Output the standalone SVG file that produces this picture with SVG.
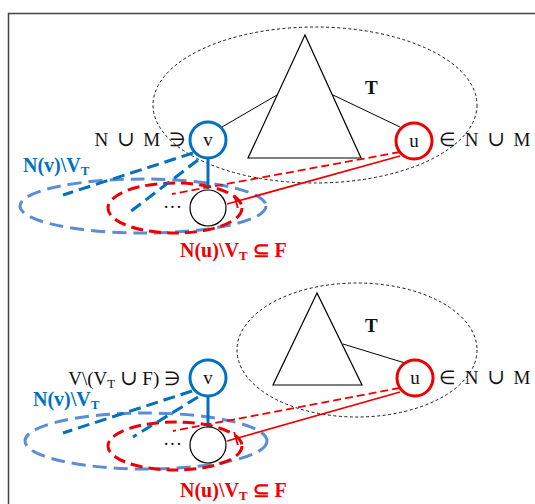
<svg xmlns="http://www.w3.org/2000/svg" width="535" height="504" viewBox="0 0 535 504">
<style>
.txt{font-family:"Liberation Serif","Times New Roman",serif;font-size:19px;fill:#111}
.lbl{font-family:"Liberation Serif","Times New Roman",serif;font-size:20px;font-weight:bold}
.cup{font-family:"DejaVu Serif",serif;font-size:21px}
.blue{fill:#0070C0}
.red{fill:#EE0000}
.tree{fill:none;stroke:#000;stroke-width:1.2}
.region{fill:none;stroke:#000;stroke-width:0.9;stroke-dasharray:3 2.5}
.vnode{fill:#fff;stroke:#0070C0;stroke-width:3}
.unode{fill:#fff;stroke:#EE0000;stroke-width:3}
.wnode{fill:#fff;stroke:#000;stroke-width:1.2}
.bell{fill:none;stroke:#5B8DD6;stroke-width:3;stroke-dasharray:14 7}
.rell{fill:none;stroke:#EE0000;stroke-width:3;stroke-dasharray:12 6}
.bdash{stroke:#0070C0;stroke-width:3;stroke-dasharray:12 6;fill:none}
.rdash{stroke:#EE0000;stroke-width:1.8;stroke-dasharray:8 4;fill:none}
.rsolid{stroke:#EE0000;stroke-width:1.8;fill:none}
.bsolid{stroke:#0070C0;stroke-width:3;fill:none}
.edge{stroke:#000;stroke-width:1;fill:none}
</style>
<defs>
<marker id="bar" markerWidth="4" markerHeight="14" refX="2" refY="7" orient="auto" markerUnits="userSpaceOnUse">
<line x1="2" y1="0" x2="2" y2="14" stroke="#EE0000" stroke-width="1.8"/>
</marker>
</defs>
<g id="frame">
<path d="M8.5 504 V13.5 H535" fill="none" stroke="#444" stroke-width="1.5"/>
</g>

<!-- TOP PANEL -->
<g id="top-T">
<ellipse class="region" cx="315" cy="105" rx="162" ry="78"/>
<polygon class="tree" points="305,35 248,158 361,158"/>
<text class="txt" x="365" y="94" font-weight="bold">T</text>
</g>
<g id="top-ellipses">
<ellipse class="bell" cx="143" cy="206" rx="123" ry="27"/>
<ellipse class="rell" cx="175" cy="208" rx="67" ry="25"/>
</g>
<g id="top-connectors">
<line class="edge" x1="222" y1="127" x2="277" y2="95"/>
<line class="edge" x1="333" y1="95" x2="400" y2="127"/>
<line class="bdash" x1="193" y1="153" x2="63" y2="195"/>
<line class="bdash" x1="198" y1="160" x2="130" y2="212"/>
<line class="bsolid" x1="208" y1="159" x2="208" y2="189"/>
<line class="rdash" x1="400" y1="152" x2="172" y2="194"/>
<polyline class="rsolid" points="400,156 236,201.5 227,204" marker-mid="url(#bar)"/>
</g>
<g id="top-v">
<circle class="vnode" cx="208" cy="140" r="18"/>
<text class="txt" x="208" y="146" text-anchor="middle">v</text>
<text class="txt" x="188" y="146" text-anchor="end" letter-spacing="2">N <tspan class="cup">∪</tspan> M ∋</text>
</g>
<g id="top-u">
<circle class="unode" cx="414" cy="141" r="18"/>
<text class="txt" x="414" y="147" text-anchor="middle">u</text>
<text class="txt" x="439" y="146" letter-spacing="2">∈  N <tspan class="cup">∪</tspan> M</text>
</g>
<g id="top-w">
<circle class="wnode" cx="208" cy="208" r="18"/>
<text class="txt" x="163" y="213" font-size="14">···</text>
</g>
<g id="top-labels">
<text class="lbl blue" x="23" y="172">N(v)\V<tspan font-size="13" dy="3">T</tspan></text>
<text class="lbl red" x="180" y="257">N(u)\V<tspan font-size="13" dy="3">T</tspan><tspan dy="-3"> ⊆ F</tspan></text>
</g>

<!-- BOTTOM PANEL -->
<g id="bot-T">
<ellipse class="region" cx="357" cy="350" rx="120" ry="67"/>
<polygon class="tree" points="317,293 273,385 362,385"/>
<text class="txt" x="365" y="332" font-weight="bold">T</text>
</g>
<g id="bot-ellipses">
<ellipse class="bell" cx="146" cy="441" rx="121" ry="28"/>
<ellipse class="rell" cx="175" cy="446" rx="67" ry="24"/>
</g>
<g id="bot-connectors">
<line class="edge" x1="343" y1="344" x2="405" y2="363"/>
<line class="bdash" x1="192" y1="391" x2="63" y2="433"/>
<line class="bdash" x1="198" y1="397" x2="133" y2="437"/>
<line class="bsolid" x1="208" y1="396" x2="208" y2="427"/>
<line class="rdash" x1="400" y1="388" x2="173" y2="431"/>
<polyline class="rsolid" points="400,392 236,438.5 227,441" marker-mid="url(#bar)"/>
</g>
<g id="bot-v">
<circle class="vnode" cx="208" cy="378" r="18"/>
<text class="txt" x="208" y="384" text-anchor="middle">v</text>
<text class="txt" x="181" y="385" text-anchor="end">V\(V<tspan font-size="13" dy="3">T</tspan><tspan dy="-3"> </tspan><tspan class="cup">∪</tspan> F) ∋</text>
</g>
<g id="bot-u">
<circle class="unode" cx="415" cy="378" r="18"/>
<text class="txt" x="415" y="384" text-anchor="middle">u</text>
<text class="txt" x="439" y="384" letter-spacing="2">∈  N <tspan class="cup">∪</tspan> M</text>
</g>
<g id="bot-w">
<circle class="wnode" cx="208" cy="445" r="18"/>
<text class="txt" x="163" y="450" font-size="14">···</text>
</g>
<g id="bot-labels">
<text class="lbl blue" x="33" y="406">N(v)\V<tspan font-size="13" dy="3">T</tspan></text>
<text class="lbl red" x="180" y="497">N(u)\V<tspan font-size="13" dy="3">T</tspan><tspan dy="-3"> ⊆ F</tspan></text>
</g>
</svg>
